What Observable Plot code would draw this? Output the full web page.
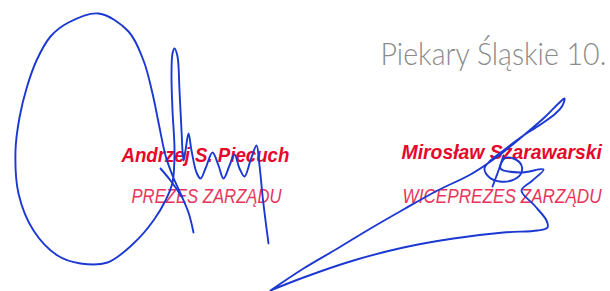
<!DOCTYPE html>
<html>
<head>
<meta charset="utf-8">
<script src="https://cdn.jsdelivr.net/npm/d3@7"></script>
<script src="https://cdn.jsdelivr.net/npm/@observablehq/plot@0.6"></script>
<style>
  html, body { margin: 0; padding: 0; background: #fff; }
  #chart svg { display: block; }
</style>
</head>
<body>
<div id="chart"></div>
<script>
// Text labels (x = left edge, y = baseline, in picture coordinates)
const placeLabel = [{text: "Piekary Śląskie 10.", x: 380, y: 64}];
const nameLabels = [
  {text: "Andrzej S. Piecuch", x: 121, y: 161},
  {text: "Mirosław Szarawarski", x: 401, y: 158}
];
const roleLabels = [
  {text: "PREZES ZARZĄDU", x: 131, y: 202},
  {text: "WICEPREZES ZARZĄDU", x: 402, y: 202}
];

// Signature 1 (oval, tall loop and waves)
const sig1Main = [
  [193,232],[188,212],[180,193],[172,175],[165,155],[159,127],[152,93],[143,60],[128,31],
  [98,13],[68,22],[50,36],[36,60],[26,88],[19,117],[15,150],[18,193],[33,230],[57,255],[80,263],[107,262],
  [133,243],[153,220],[165,200],[172,182],[174,150],[172,110],[171,75],[172,53],[174,48],
  [177,56],[179,90],[181,130],[183,160],[185,150],[188,133],[191,150],[196,172],[200,178],
  [205,168],[212,152],[218,165],[223,178],[229,165],[234,154],[239,168],[244,176],[250,160],
  [256,145],[259,165],[262,195],[265,220],[268,243]
];
const sig1Cross = [[160,168],[170,180],[181,196]];

// Signature 2 (long diagonal, loop and triangle)
const sig2Main = [
  [270,290],[303,268],[337,248],[370,228],[403,209],[437,190],[470,174],[497,156],[523,135],
  [545,116],[558,103],[564,98],[562,105],[555,113],[540,124],[520,137],[503,150],[490,160],
  [484,168],[489,177],[499,181],[511,180],[520,174],[521,165],[513,158],[504,158],[500,168],
  [520,172],[543,169],[532,180],[521,190],[534,205],[546,220],[547,227],[537,230],[503,232],
  [453,238],[403,247],[353,260],[303,277],[270,290]
];
const sig2Stem = [[503,155],[498,170],[492,186]];

const strokes = [
  {name: "s1", pts: sig1Main},
  {name: "s1x", pts: sig1Cross},
  {name: "s2", pts: sig2Main},
  {name: "s2x", pts: sig2Stem}
].flatMap(s => s.pts.map(([x, y]) => ({stroke: s.name, x, y})));

const textFit = {
  "Piekary Śląskie 10.": 226,
  "Andrzej S. Piecuch": 169,
  "Mirosław Szarawarski": 201,
  "PREZES ZARZĄDU": 151,
  "WICEPREZES ZARZĄDU": 200
};

const chart = Plot.plot({
  width: 610,
  height: 291,
  margin: 0,
  x: {domain: [0, 610], axis: null},
  y: {domain: [291, 0], axis: null},
  style: {background: "#fff"},
  marks: [
    Plot.text(placeLabel, {x: "x", y: "y", text: "text", textAnchor: "start", lineAnchor: "bottom",
      fontFamily: "Lato, 'Open Sans', sans-serif", fontSize: 32, fontWeight: 300, fill: "#8a8a8a"}),
    Plot.text(nameLabels, {x: "x", y: "y", text: "text", textAnchor: "start", lineAnchor: "bottom",
      fontFamily: "'Liberation Sans', Arial, sans-serif", fontSize: 20, fontWeight: "bold",
      fontStyle: "italic", fill: "#e6082a"}),
    Plot.text(roleLabels, {x: "x", y: "y", text: "text", textAnchor: "start", lineAnchor: "bottom",
      fontFamily: "'Liberation Sans', Arial, sans-serif", fontSize: 19.5, fontWeight: "normal",
      fontStyle: "italic", fill: "#e8365a"}),
    Plot.line(strokes, {x: "x", y: "y", z: "stroke", curve: "catmull-rom",
      stroke: "#1b38d2", strokeWidth: 1.9, strokeLinejoin: "round", strokeLinecap: "round"})
  ]
});

document.getElementById("chart").appendChild(chart);

// Condense each label horizontally (about its left edge) to the width seen in the scan
d3.select(chart).selectAll("text").each(function() {
  const target = textFit[this.textContent];
  if (!target) return;
  const box = this.getBBox();
  const s = target / box.width;
  const t = this.getAttribute("transform") || "";
  this.setAttribute("transform",
    `${t} translate(${box.x},0) scale(${s},1) translate(${-box.x},0)`);
});
</script>
</body>
</html>
